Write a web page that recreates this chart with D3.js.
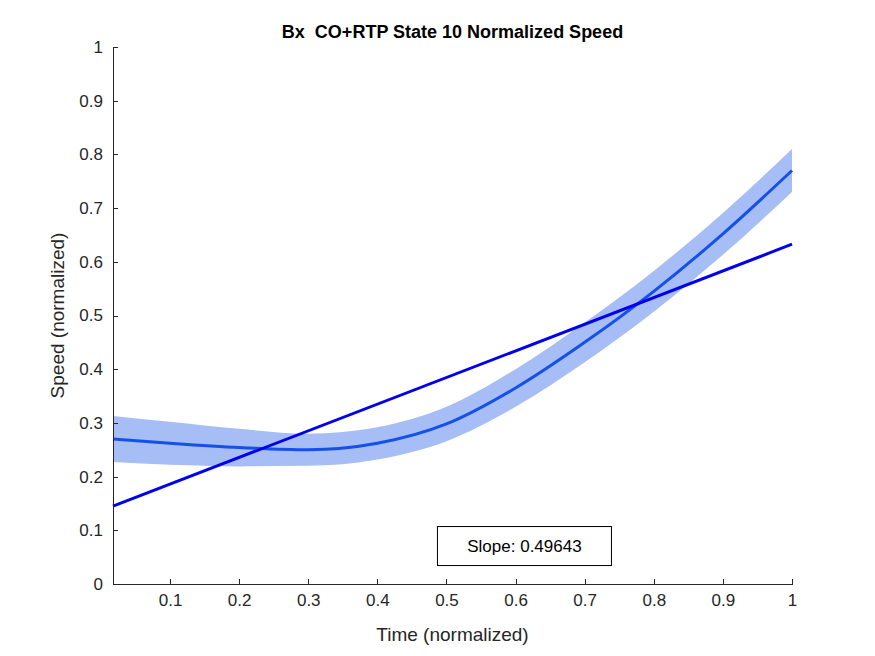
<!DOCTYPE html>
<meta charset="utf-8">
<style>
    body { margin: 0; background: #fff; }
    .axis text { font: 17px "Liberation Sans", Arial, sans-serif; fill: #262626; }
    .axis path, .axis line { stroke: #262626; shape-rendering: crispEdges; }
</style>
<svg class="chart"></svg>
<script src="https://cdnjs.cloudflare.com/ajax/libs/d3/7.8.5/d3.min.js"></script>
<script>
    const timeVals = [0.0175, 0.1, 0.2, 0.3, 0.4, 0.5, 0.6, 0.7, 0.8, 0.9, 1.0];
    const meanVals = [0.270, 0.262, 0.254, 0.250, 0.262, 0.298, 0.365, 0.450, 0.545, 0.652, 0.770];
    const halfWidth = [0.043, 0.040, 0.035, 0.030, 0.030, 0.032, 0.035, 0.037, 0.038, 0.039, 0.040];
    const fitStart = [0.0175, 0.145];
    const slope = 0.49643;
    const xTicks = [0.1, 0.2, 0.3, 0.4, 0.5, 0.6, 0.7, 0.8, 0.9, 1];
    const yTicks = [0, 0.1, 0.2, 0.3, 0.4, 0.5, 0.6, 0.7, 0.8, 0.9, 1];

    const W = 875, H = 656;
    const margin = {top: 47, right: 83, bottom: 72, left: 113};
    const width = W - margin.left - margin.right,
        height = H - margin.top - margin.bottom;

    const svg = d3.select(".chart").attr("width", W).attr("height", H);
    const chart = svg.append("g")
        .attr("transform", "translate(" + margin.left + "," + margin.top + ")");

    const x = d3.scaleLinear().domain([0.0175, 1]).range([0, width]);
    const y = d3.scaleLinear().domain([0, 1]).range([height, 0]);

    const pts = timeVals.map((t, i) => ({t: t, m: meanVals[i], h: halfWidth[i]}));

    chart.append("path")
        .datum(pts)
        .attr("fill", "#a7bdf5")
        .attr("d", d3.area().curve(d3.curveMonotoneX)
            .x(d => x(d.t)).y0(d => y(d.m - d.h)).y1(d => y(d.m + d.h)));

    chart.append("path")
        .datum(pts)
        .attr("fill", "none")
        .attr("stroke", "#1550e8")
        .attr("stroke-width", 3)
        .attr("d", d3.line().curve(d3.curveMonotoneX).x(d => x(d.t)).y(d => y(d.m)));

    const fitEnd = [1, fitStart[1] + slope * (1 - fitStart[0])];
    chart.append("line")
        .attr("x1", x(fitStart[0])).attr("y1", y(fitStart[1]))
        .attr("x2", x(fitEnd[0])).attr("y2", y(fitEnd[1]))
        .attr("stroke", "#0000ee").attr("stroke-width", 3);

    chart.append("g").attr("class", "axis")
        .attr("transform", "translate(0," + height + ")")
        .call(d3.axisBottom(x).tickValues(xTicks).tickFormat(d3.format("")).tickSizeInner(-5).tickSizeOuter(0).tickPadding(10));
    chart.append("g").attr("class", "axis")
        .call(d3.axisLeft(y).tickValues(yTicks).tickFormat(d3.format("")).tickSizeInner(-5).tickSizeOuter(0).tickPadding(10));

    // slope box
    const bx = x(0.5) - 9, by = y(0.107);
    chart.append("rect")
        .attr("x", bx).attr("y", by).attr("width", 174).attr("height", 39)
        .attr("fill", "#fff").attr("stroke", "#000");
    chart.append("text")
        .attr("x", bx + 87).attr("y", by + 25)
        .attr("text-anchor", "middle")
        .style("font", "17px 'Liberation Sans', Arial, sans-serif")
        .text("Slope: " + slope);

    svg.append("text")
        .attr("x", margin.left + width / 2).attr("y", 38)
        .attr("text-anchor", "middle")
        .style("font", "bold 18px 'Liberation Sans', Arial, sans-serif")
        .style("white-space", "pre")
        .text("Bx  CO+RTP State 10 Normalized Speed");
    svg.append("text")
        .attr("x", margin.left + width / 2).attr("y", 641)
        .attr("text-anchor", "middle").attr("fill", "#262626")
        .style("font", "19px 'Liberation Sans', Arial, sans-serif")
        .text("Time (normalized)");
    svg.append("text")
        .attr("transform", "translate(64," + (margin.top + height / 2) + ") rotate(-90)")
        .attr("text-anchor", "middle").attr("fill", "#262626")
        .style("font", "19px 'Liberation Sans', Arial, sans-serif")
        .text("Speed (normalized)");
</script>
